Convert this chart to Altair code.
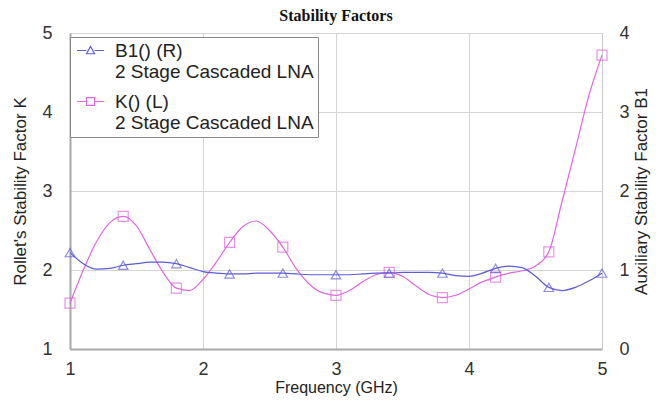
import altair as alt
import pandas as pd

freq = [1.0, 1.1, 1.2, 1.3, 1.4, 1.5, 1.6, 1.7, 1.8, 1.9,
        2.0, 2.1, 2.2, 2.3, 2.4, 2.5, 2.6, 2.7, 2.8, 2.9,
        3.0, 3.1, 3.2, 3.3, 3.4, 3.5, 3.6, 3.7, 3.8, 3.9,
        4.0, 4.1, 4.2, 4.3, 4.4, 4.5, 4.6, 4.7, 4.8, 4.9, 5.0]

k_vals = [1.58, 2.00, 2.36, 2.60, 2.68, 2.56, 2.26, 1.97, 1.77, 1.74,
          1.88, 2.10, 2.35, 2.55, 2.62, 2.50, 2.29, 2.02, 1.82, 1.71,
          1.68, 1.74, 1.85, 1.94, 1.97, 1.92, 1.80, 1.69, 1.65, 1.68,
          1.76, 1.85, 1.91, 1.96, 1.99, 2.05, 2.23, 2.87, 3.53, 4.20, 4.72]

b1_vals = [1.22, 1.08, 1.01, 1.02, 1.06, 1.08, 1.10, 1.10, 1.08, 1.03,
           0.98, 0.96, 0.95, 0.95, 0.96, 0.96, 0.96, 0.95, 0.94, 0.94,
           0.94, 0.94, 0.95, 0.96, 0.96, 0.97, 0.97, 0.97, 0.96, 0.93,
           0.92, 0.96, 1.02, 1.05, 1.03, 0.92, 0.78, 0.74, 0.78, 0.86, 0.96]

marker_freq = [1.0, 1.4, 1.8, 2.2, 2.6, 3.0, 3.4, 3.8, 4.2, 4.6, 5.0]

series_names = ["B1() (R)|2 Stage Cascaded LNA", "K() (L)|2 Stage Cascaded LNA"]

BLUE = "#5c5cd6"
PINK = "#e066e0"

df = pd.DataFrame({"freq": freq, "K": k_vals, "B1": b1_vals})
df["marker"] = df["freq"].isin(marker_freq)
dm = df[df["marker"]]
dleg = pd.DataFrame({"freq": [1.0, 1.0], "K": [1.58, 1.58], "series": series_names})

FONT = "Liberation Sans"

x_enc = alt.X("freq:Q", scale=alt.Scale(domain=[1, 5], nice=False),
              axis=alt.Axis(title="Frequency (GHz)", values=[1, 2, 3, 4, 5], format="d",
                            labelFontSize=18, labelFont=FONT, labelColor="#333",
                            labelFlush=False,
                            titleFont=FONT, titleFontSize=16, titleFontWeight="normal",
                            titleColor="#222", labelPadding=11, titlePadding=1,
                            ticks=False, grid=True, gridColor="#d4d4d4",
                            domainColor="#a8a8a8", domainWidth=2))

k_scale = alt.Scale(domain=[1, 5], nice=False, zero=False)
k_axis = alt.Axis(title="Rollet's Stability Factor K", values=[1, 2, 3, 4, 5], format="d",
                  labelFontSize=18, labelFont=FONT, labelColor="#333", labelFlush=False,
                  titleFont=FONT, titleFontSize=17, titleFontWeight="normal",
                  titleColor="#222", labelPadding=18, titlePadding=12,
                  ticks=False, grid=True, gridColor="#d4d4d4",
                  domainColor="#a8a8a8", domainWidth=2)

b_scale = alt.Scale(domain=[0, 4], nice=False, zero=False)
b_axis = alt.Axis(title="Auxiliary Stability Factor B1", orient="right", values=[0, 1, 2, 3, 4],
                  format="d", labelFlush=False,
                  labelFontSize=18, labelFont=FONT, labelColor="#333",
                  titleFont=FONT, titleFontSize=17, titleFontWeight="normal",
                  titleColor="#222", labelPadding=17, titlePadding=21, titleAngle=270,
                  ticks=False, grid=False, domainColor="#c8c8c8", domainWidth=1)

tri_path = "M-2,0L-0.6,0M0.6,0L2,0M-0.6,0.48L0,-0.6L0.6,0.48Z"
sq_path = "M-2,0L-0.6,0M0.6,0L2,0M-0.6,-0.56L0.6,-0.56L0.6,0.56L-0.6,0.56Z"

legend = alt.Legend(title=None, orient="none", legendX=0, legendY=4,
                    labelExpr="split(datum.label, '|')",
                    labelFont=FONT, labelFontSize=19, labelColor="#222",
                    symbolSize=182, symbolOpacity=1, symbolStrokeWidth=1.2,
                    symbolOffset=7,
                    fillColor="white", strokeColor="#888", padding=4,
                    rowPadding=10, labelOffset=15, labelLimit=400)

k_line = alt.Chart(df).mark_line(color=PINK, strokeWidth=1.2, interpolate="monotone").encode(
    x=x_enc, y=alt.Y("K:Q", scale=k_scale, axis=k_axis))
k_pts = alt.Chart(dm).mark_point(shape="square", filled=False, color=PINK, size=100,
                                 strokeWidth=1.2).encode(
    x="freq:Q", y="K:Q")
leg = alt.Chart(dleg).mark_point(opacity=0, filled=False).encode(
    x="freq:Q", y="K:Q",
    color=alt.Color("series:N", scale=alt.Scale(domain=series_names, range=[BLUE, PINK]), legend=legend),
    shape=alt.Shape("series:N", scale=alt.Scale(domain=series_names, range=[tri_path, sq_path]), legend=legend))

b_line = alt.Chart(df).mark_line(color=BLUE, strokeWidth=1.2, interpolate="monotone").encode(
    x="freq:Q", y=alt.Y("B1:Q", scale=b_scale, axis=b_axis))
b_pts = alt.Chart(dm).mark_point(shape="triangle-up", filled=False, color=BLUE, size=90,
                                 strokeWidth=1.2).encode(
    x="freq:Q", y="B1:Q")

chart = alt.layer(
    alt.layer(k_line, k_pts, leg),
    alt.layer(b_line, b_pts),
).resolve_scale(y="independent").properties(
    width=532, height=316,
    title=alt.TitleParams("Stability Factors", font="Liberation Serif", fontSize=16,
                          fontWeight="bold", color="#111", anchor="middle", offset=0),
    autosize=alt.AutoSizeParams(type="none"),
    padding={"left": 62, "top": 25, "right": 53, "bottom": 49},
).configure_view(stroke="#c8c8c8", strokeWidth=1).configure(background="white")

chart.save("out.html", embed_options={"renderer": "svg", "actions": False})
